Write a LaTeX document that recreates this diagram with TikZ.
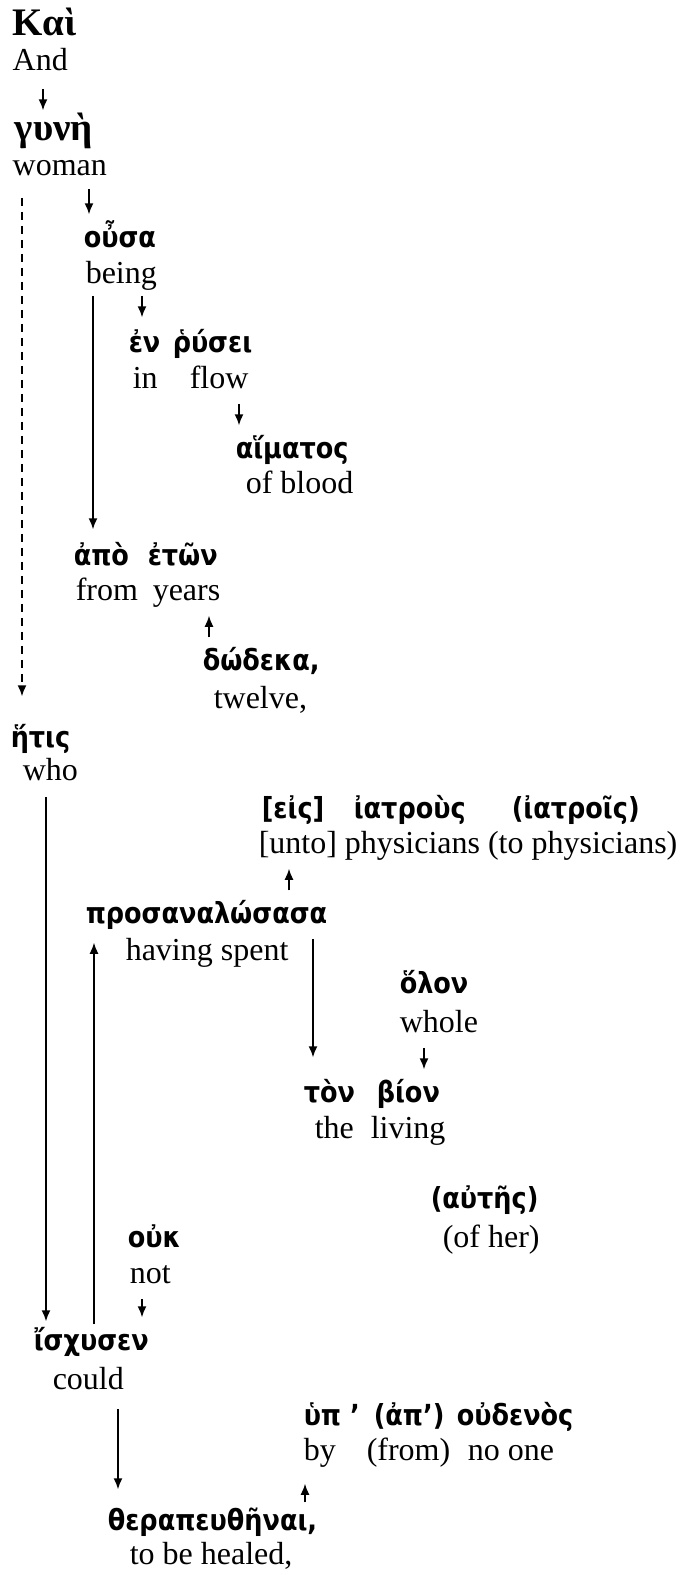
\documentclass[tikz,border=0pt]{standalone}
\usepackage{fontspec}
\setmainfont{Liberation Serif}
\newfontfamily\grkfont[Script=Greek, FakeStretch=0.88]{DejaVu Sans}
\newfontfamily\grkserif[Script=Greek]{Liberation Serif}
\usetikzlibrary{arrows.meta}

\tikzset{
    greek/.style = {anchor = base west, inner sep = 0pt,
                    text height = 12pt, text depth = 3pt,
                    font = \grkfont\bfseries\fontsize{14.5}{17}\selectfont},
    oldgreek/.style = {greek, font = \grkserif\bfseries\fontsize{19.5}{22}\selectfont},
    gloss/.style = {anchor = base west, inner sep = 0pt,
                    text height = 11pt, text depth = 3.5pt,
                    font = \fontsize{16}{19}\selectfont},
    arr/.style = {-{Latex[length=5.5pt, width=4.5pt]},
                  shorten <= 4pt, shorten >= 4pt},
}

\begin{document}
\begin{tikzpicture}[x = 0.5pt, y = -0.5pt, black, line width = 0.75pt]

\useasboundingbox (0,0) rectangle (680,1575);


\node[oldgreek] (gKai)  at (12,35)  {Καὶ};
\node[oldgreek] (gGyne) at (14,140) {γυνὴ};

% greek words
\foreach \NAME/\X/\Y/\WORD in {
                    gOusa/83/247/οὖσα,
                    gEn/128/352/ἐν,
                    gRusei/172/352/ῥύσει,
                    gHaim/235/458/αἵματος,
                    gApo/73/565/ἀπὸ,
                    gEton/147/565/ἐτῶν,
                    gDod/202/670/{δώδεκα,},
                    gHetis/10/747/ἥτις,
                    gEis/261/818/{[εἰς]},
                    gIatrous/353/818/ἰατροὺς,
                    gIatrois/511/818/(ἰατροῖς),
                    gPros/85/923/προσαναλώσασα,
                    gHolon/399/993/ὅλον,
                    gTon/303/1102/τὸν,
                    gBion/376/1102/βίον,
                    gAutes/430/1208/(αὐτῆς),
                    gOuk/127/1247/οὐκ,
                    gIsch/33/1350/ἴσχυσεν,
                    gHup/303/1425/ὑπ ’,
                    gAp/373/1425/(ἀπ’),
                    gOudenos/456/1425/οὐδενὸς,
                    gTher/107/1530/{θεραπευθῆναι,}}{
    \node[greek] (\NAME) at (\X,\Y) {\WORD};
    };

% english glosses
\foreach \NAME/\X/\Y/\WORD in {
                    eKai/12/70/And,
                    eGyne/12/175/woman,
                    eOusa/85/283/being,
                    eIn/132/388/in,
                    eFlow/189/388/flow,
                    eHaim/245/493/of blood,
                    eFrom/75/600/from,
                    eYears/152/600/years,
                    eDod/213/708/{twelve,},
                    eHetis/22/780/who,
                    eEis/258/853/{[unto] physicians (to physicians)},
                    ePros/125/960/having spent,
                    eHolon/399/1032/whole,
                    eThe/314/1138/the,
                    eLiving/370/1138/living,
                    eAutes/442/1247/(of her),
                    eOuk/129/1283/not,
                    eIsch/52/1389/could,
                    eBy/303/1460/by,
                    eFromB/366/1460/(from),
                    eNoone/467/1460/no one,
                    eTher/129/1564/{to be healed,}}{
    \node[gloss] (\NAME) at (\X,\Y) {\WORD};
    };


\draw[arr, shorten <= 5.5pt, shorten >= 2.5pt] (eKai.south -| 43,0) -- (gGyne.north -| 43,0);
\draw[arr, shorten <= 3pt, shorten >= 4pt] (eGyne.south -| 89,0) -- (gOusa.north -| 89,0);
\draw[arr, dash pattern = on 4pt off 3pt, shorten <= 7.5pt, shorten >= 13pt] (eGyne.south -| 22,0) -- (gHetis.north -| 22,0);
\draw[arr, shorten <= 2.5pt, shorten >= 5.5pt] (eOusa.south -| 93,0) -- (gApo.north -| 93,0);
\draw[arr, shorten <= 2.5pt, shorten >= 5pt] (eOusa.south -| 142,0) -- (gEn.north -| 142,0);
\draw[arr] (eFlow.south -| 239,0) -- (gHaim.north -| 239,0);
\draw[arr] (gDod.north -| 209,0) -- (eYears.south -| 209,0);

\draw[arr, shorten <= 4.5pt, shorten >= 2pt] (eHetis.south -| 46,0) -- (gIsch.north -| 46,0);
\draw[arr] (gPros.north -| 289,0) -- (eEis.south -| 289,0);
\draw[arr, shorten <= 0.5pt, shorten >= 6.5pt] (gIsch.north -| 94,0) -- (gPros.south -| 94,0);
\draw[arr, shorten <= 4.5pt, shorten >= 10pt] (gPros.south -| 313,0) -- (gTon.north -| 313,0);
\draw[arr] (eHolon.south -| 424,0) -- (gBion.north -| 424,0);
\draw[arr] (eOuk.south -| 142,0) -- (gIsch.north -| 142,0);
\draw[arr, shorten <= 6pt, shorten >= 8pt] (eIsch.south -| 118,0) -- (gTher.north -| 118,0);
\draw[arr, shorten <= 1.5pt, shorten >= 8pt] (gTher.north -| 305,0) -- (eBy.south -| 305,0);

\end{tikzpicture}
\end{document}
